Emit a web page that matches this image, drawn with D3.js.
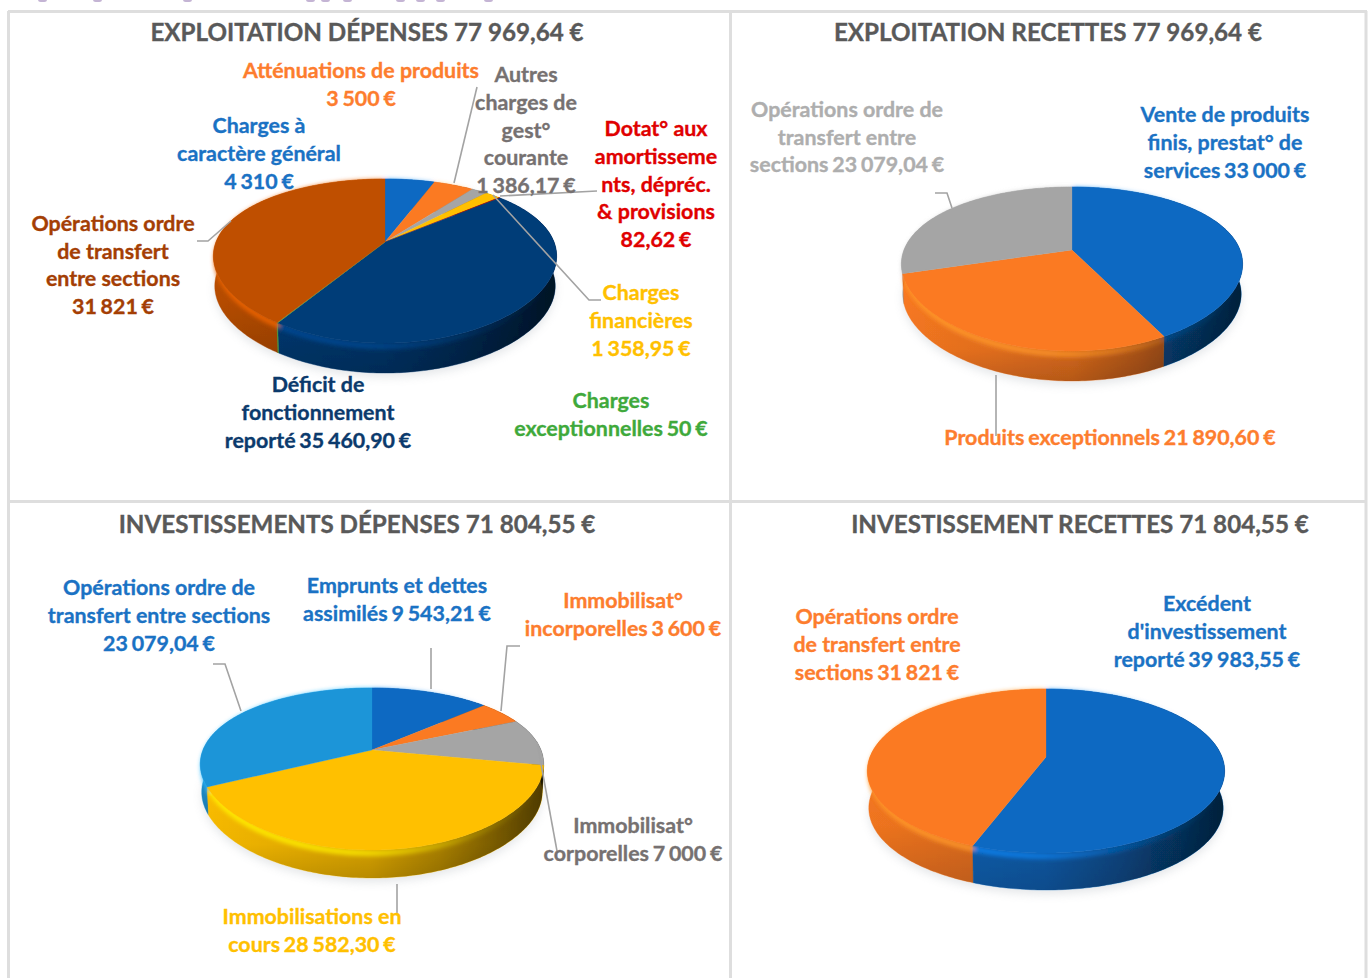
<!DOCTYPE html>
<html lang="fr"><head><meta charset="utf-8">
<style>html,body{margin:0;padding:0;background:#fff}svg{display:block}text{font-family:Lato,"Open Sans",sans-serif;font-weight:700}</style>
<script src="https://cdnjs.cloudflare.com/ajax/libs/d3/7.8.5/d3.min.js"></script>
</head><body><svg id="c" width="1368" height="978"></svg>
<script>
// ---- data ----
const titles = ["EXPLOITATION DÉPENSES 77 969,64 €","EXPLOITATION RECETTES 77 969,64 €","INVESTISSEMENTS DÉPENSES 71 804,55 €","INVESTISSEMENT RECETTES 71 804,55 €"];
const valuesExploitDep = [4310,3500,1386.17,1358.95,82.62,35460.90,50,31821];
const valuesExploitRec = [33000,21890.60,23079.04];
const valuesInvestDep = [9543.21,3600,7000,28582.30,23079.04];
const valuesInvestRec = [39983.55,31821];
const labelsExploitDep = [["Charges à","caractère général","4 310 €"],["Atténuations de produits","3 500 €"],["Autres","charges de","gest°","courante","1 386,17 €"],["Charges","financières","1 358,95 €"],["Dotat° aux","amortisseme","nts, dépréc.","& provisions","82,62 €"],["Déficit de","fonctionnement","reporté 35 460,90 €"],["Charges","exceptionnelles 50 €"],["Opérations ordre","de transfert","entre sections","31 821 €"]];
const labelsExploitRec = [["Vente de produits","finis, prestat° de","services 33 000 €"],["Produits exceptionnels 21 890,60 €"],["Opérations ordre de","transfert entre","sections 23 079,04 €"]];
const labelsInvestDep = [["Emprunts et dettes","assimilés 9 543,21 €"],["Immobilisat°","incorporelles 3 600 €"],["Immobilisat°","corporelles 7 000 €"],["Immobilisations en","cours 28 582,30 €"],["Opérations ordre de","transfert entre sections","23 079,04 €"]];
const labelsInvestRec = [["Excédent","d'investissement","reporté 39 983,55 €"],["Opérations ordre","de transfert entre","sections 31 821 €"]];

// ---- styles ----
const C={blue:"#0d69c2",orange:"#fb7a21",gray:"#a5a5a5",yellow:"#ffc000",red:"#c00000",navy:"#023c78",green:"#4aa83a",brown:"#bf5000",sky:"#1f95d8"};
const T={blue:"#1a72c4",orange:"#fd7d2e",gray:"#767171",lgray:"#aeaeae",yellow:"#ffc000",red:"#e00000",navy:"#0b3a6c",green:"#3fa93b",brown:"#a43e04"};
const TITLE_SIZE=24.2, LABEL_SIZE=21.4, TEXT_WEIGHT=0.35, LEAD="#a3a3a3";

// ---- layout ----
const charts=[
 {title:[367,31],cx:385,cy:242,rx:169,kx:.75,back:63,front:101,depth:30,values:valuesExploitDep,labels:labelsExploitDep,
  fills:[C.blue,C.orange,C.gray,C.yellow,C.red,C.navy,C.green,C.brown],
  text:[T.blue,T.orange,T.gray,T.yellow,T.red,T.navy,T.green,T.brown],
  pos:[[259,125],[361,70],[526,74],[641,292],[656,128],[318,384],[611,400],[113,223]],pitch:[28,28,27.8,28,27.8,28,28,27.7],
  leaders:[[[477,87],[454,183]],[[597,191],[500,196]],[[601,300],[589,300],[493,195]],[[197,241],[208,241],[231,221]]]},
 {title:[1048,31],cx:1072,cy:250,rx:168,kx:.75,back:63,front:101,depth:30,values:valuesExploitRec,labels:labelsExploitRec,
  fills:[C.blue,C.orange,C.gray],text:[T.blue,T.orange,T.lgray],
  pos:[[1225,114],[1110,437],[847,109]],pitch:[28,28,27.6],
  leaders:[[[935,193],[947,193],[952,208]],[[996,375],[996,436]]]},
 {title:[357,523],cx:372,cy:750,rx:169,kx:.75,back:62,front:100,depth:28,values:valuesInvestDep,labels:labelsInvestDep,
  fills:[C.blue,C.orange,C.gray,C.yellow,C.sky],text:[T.blue,T.orange,T.gray,T.yellow,T.blue],
  pos:[[397,585],[623,600],[633,825],[312,916],[159,587]],pitch:[28,28,28,28,28],
  leaders:[[[213,664],[225,664],[241,711]],[[431,648],[431,689]],[[520,646],[507,646],[501,711]],[[537,742],[557,851]],[[397,884],[397,914]]]},
 {title:[1080,523],cx:1046,cy:757,rx:176,kx:1,back:68,front:96,depth:37,values:valuesInvestRec,labels:labelsInvestRec,
  fills:[C.blue,C.orange],text:[T.blue,T.orange],
  pos:[[1207,603],[877,616]],pitch:[28,28],leaders:[]}
];
const rules=[[[8,11.5],[1367,11.5]],[[8.5,11],[8.5,978]],[[1366,11],[1366,978]],[[730.5,11],[730.5,978]],[[8,501.5],[1367,501.5]]];
const headFragments=[42,97,187,310,325,347,400,420,440,488];

const svg=d3.select("#c");
const defs=svg.append("defs");
defs.append("filter").attr("id","soft").append("feGaussianBlur").attr("stdDeviation",0.45);
defs.append("filter").attr("id","bevel").append("feGaussianBlur").attr("stdDeviation",2.2);
const sh=defs.append("filter").attr("id","shadow").attr("x","-20%").attr("y","-30%").attr("width","140%").attr("height","160%");
sh.append("feGaussianBlur").attr("stdDeviation",5);

// page chrome
svg.append("g").selectAll("rect").data(headFragments).join("rect")
 .attr("x",d=>d-4).attr("y",-3).attr("width",9).attr("height",5).attr("rx",2.5).attr("fill","#a58cbd").attr("opacity",.65);
const line=d3.line();
svg.append("g").selectAll("path").data(rules).join("path").attr("d",line).attr("stroke","#dedede").attr("stroke-width",3).attr("fill","none");

const pie=d3.pie().sort(null).value(d=>d).startAngle(0).endAngle(2*Math.PI);

charts.forEach((ch,idx)=>{
 const g=svg.append("g");
 const ry=2/(1/ch.back+1/ch.front), k=(ch.front-ch.back)/(ch.front+ch.back);
 const x=d3.scaleLinear().domain([-1,1]).range([ch.cx-ch.rx,ch.cx+ch.rx]);
 const y=d3.scaleLinear().domain([-1,1]).range([ch.cy-ry,ch.cy+ry]);
 // perspective projection of a pie angle on the disc
 const rim=(a,s=1,dy=0)=>{const u=Math.sin(a),v=-Math.cos(a),w=1-k*v,wx=1-k*ch.kx*v;
   return [ch.cx+(x(u/wx)-ch.cx)*s, y(v/w)+dy];};
 const samples=(a0,a1)=>{const n=Math.max(2,Math.ceil((a1-a0)*60));return d3.range(0,n+1).map(i=>a0+(a1-a0)*i/n);};
 const arcs=pie(ch.values);
 // shadow
 g.append("path").attr("d",line(samples(0,2*Math.PI).map(a=>rim(a,.99,ch.depth+4)))+"Z")
  .attr("fill","#c3c8cd").attr("opacity",.45).attr("filter","url(#shadow)");
 const art=g.append("g").attr("filter","url(#soft)");
 const gid="side"+idx;
 const grad=defs.append("linearGradient").attr("id",gid).attr("gradientUnits","userSpaceOnUse")
   .attr("x1",ch.cx-ch.rx).attr("x2",ch.cx+ch.rx).attr("y1",0).attr("y2",0);
 [[0,0],[.5,.12],[.7,.3],[.9,.55],[1,.68]].forEach(([o,a])=>grad.append("stop").attr("offset",o).attr("stop-color","#000").attr("stop-opacity",a));
 const vid="sidev"+idx;
 const vg=defs.append("linearGradient").attr("id",vid).attr("x1",0).attr("x2",0).attr("y1",0).attr("y2",1);
 [[0,0],[.7,.05],[1,.18]].forEach(([o,a])=>vg.append("stop").attr("offset",o).attr("stop-color","#000").attr("stop-opacity",a));
 const sidePath=d=>{const s=samples(d.startAngle,d.endAngle);
   return line(s.map(a=>rim(a)).concat(s.slice().reverse().map(a=>rim(a,.992,ch.depth))))+"Z";};
 // sides, back to front
 const order=arcs.map((d,i)=>({d,i})).sort((a,b)=>Math.abs(Math.PI-(b.d.startAngle+b.d.endAngle)/2)-Math.abs(Math.PI-(a.d.startAngle+a.d.endAngle)/2));
 art.append("g").selectAll("path").data(order).join("path").attr("d",o=>sidePath(o.d)).attr("fill",o=>ch.fills[o.i]).attr("stroke",o=>ch.fills[o.i]).attr("stroke-width",.4);
 art.append("g").selectAll("path").data(order).join("path").attr("d",o=>sidePath(o.d)).attr("fill","url(#"+gid+")");
 art.append("g").selectAll("path").data(order).join("path").attr("d",o=>sidePath(o.d)).attr("fill","url(#"+vid+")");
 // bevel highlight under the top rim
 const bevelG=art.append("g").attr("filter","url(#bevel)");
 arcs.forEach((d,i)=>{
  const id=`bev${idx}_${i}`;
  const bg=defs.append("linearGradient").attr("id",id).attr("gradientUnits","userSpaceOnUse")
   .attr("x1",ch.cx-ch.rx).attr("x2",ch.cx+ch.rx).attr("y1",0).attr("y2",0);
  const lit=d3.color(ch.fills[i]).brighter(.6).formatHex();
  [[0,.95],[.45,.8],[.8,.2],[1,0]].forEach(([o,a])=>bg.append("stop").attr("offset",o).attr("stop-color",lit).attr("stop-opacity",a));
  bevelG.append("path").attr("d",line(samples(d.startAngle,d.endAngle).map(a=>rim(a,.98,3)))).attr("fill","none").attr("stroke","url(#"+id+")").attr("stroke-width",6);
 });
 // top face
 art.append("g").selectAll("path").data(arcs).join("path")
  .attr("d",d=>line([[ch.cx,ch.cy]].concat(samples(d.startAngle,d.endAngle).map(a=>rim(a))))+"Z")
  .attr("fill",(d,i)=>ch.fills[i]).attr("stroke",(d,i)=>ch.fills[i]).attr("stroke-width",.3);
 // leaders
 g.append("g").selectAll("path").data(ch.leaders).join("path").attr("d",line).attr("fill","none").attr("stroke",LEAD).attr("stroke-width",1.6);
 // title
 g.append("text").attr("x",ch.title[0]).attr("y",ch.title[1]).attr("text-anchor","middle").attr("dominant-baseline","central")
  .attr("font-size",TITLE_SIZE).attr("fill","#595959").attr("stroke","#595959").attr("stroke-width",TEXT_WEIGHT).text(titles[idx]);
 // labels
 const lg=g.append("g").selectAll("text").data(ch.labels).join("text").attr("text-anchor","middle").attr("font-size",LABEL_SIZE)
  .attr("fill",(d,i)=>ch.text[i]).attr("stroke",(d,i)=>ch.text[i]).attr("stroke-width",TEXT_WEIGHT);
 lg.each(function(lines,i){
  d3.select(this).selectAll("tspan").data(lines).join("tspan")
   .attr("x",ch.pos[i][0]).attr("y",(l,j)=>ch.pos[i][1]+j*ch.pitch[i]).attr("dominant-baseline","central")
   .style("word-spacing",l=>/\d/.test(l)?"-1.4px":null).text(l=>l);
 });
});
</script></body></html>
